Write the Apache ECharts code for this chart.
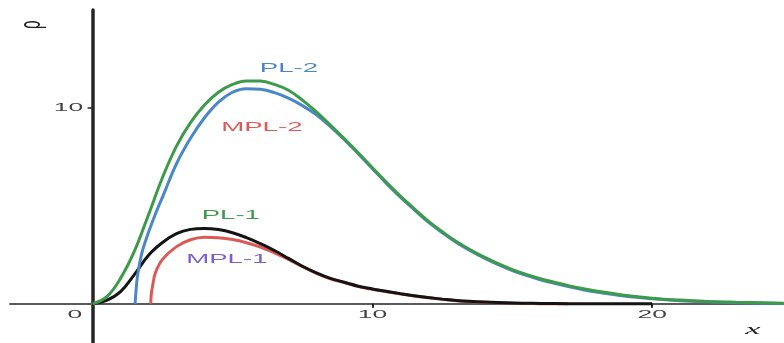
<!DOCTYPE html>
<html>
<head>
<meta charset="utf-8">
<script src="https://cdn.jsdelivr.net/npm/echarts@6/dist/echarts.min.js"></script>
<style>
html,body{margin:0;padding:0;background:#fff;}
#c{width:784px;height:343px;}
</style>
</head>
<body>
<div id="c"></div>
<script>
// ---- data ----
const pl2X  = [0,0.5,1,1.5,2,2.5,3,3.5,4,4.5,5,5.5,6,6.5,7,7.5,8,8.5,9,9.5,10,10.5,11,11.5,12,12.5,13,13.5,14,14.5,15,15.5,16,16.5,17,17.5,18,19,20,21,22,23,24,24.7];
const pl2Y  = [0,0.35,1.3,2.7,4.55,6.45,8.05,9.25,10.15,10.8,11.2,11.38,11.37,11.2,10.9,10.4,9.8,9.12,8.42,7.7,6.95,6.2,5.5,4.85,4.22,3.68,3.18,2.76,2.38,2.05,1.75,1.5,1.28,1.1,0.93,0.78,0.65,0.44,0.29,0.19,0.12,0.08,0.05,0.03];
const mpl2X = [1.52,1.55,1.6,1.7,1.8,2,2.25,2.5,3,3.5,4,4.5,5,5.5,6,6.5,7,7.5,8,8.5,9,9.5,10,10.5,11,11.5,12,12.5,13,13.5,14,14.5,15,15.5,16,16.5,17,17.5,18,19,20,21,22,23,24,24.7];
const mpl2Y = [0,0.6,1.35,2.2,2.8,3.65,4.6,5.45,7.15,8.45,9.5,10.3,10.8,10.98,10.95,10.78,10.5,10.12,9.65,9.05,8.38,7.65,6.9,6.15,5.45,4.8,4.17,3.63,3.13,2.71,2.33,2.0,1.7,1.45,1.23,1.05,0.88,0.73,0.6,0.4,0.26,0.16,0.1,0.06,0.03,0.02];
const pl1X  = [0,0.5,1,1.5,2,2.5,3,3.5,4,4.5,5,5.5,6,6.5,7,7.5,8,8.5,9,9.5,10,10.5,11,11.5,12,12.5,13,14,15,16,17,18,20];
const pl1Y  = [0,0.17,0.62,1.5,2.48,3.13,3.58,3.8,3.85,3.79,3.63,3.38,3.07,2.72,2.32,1.92,1.58,1.3,1.1,0.9,0.76,0.64,0.52,0.41,0.32,0.24,0.17,0.09,0.04,0.02,0.01,0,0];
const mpl1X = [2.08,2.1,2.15,2.25,2.5,3,3.5,4,4.5,5,5.5,6,6.5,7,7.5,8,8.5,9,9.5,10,10.5,11,11.5,12,12.5,13,14,15,16,17];
const mpl1Y = [0,0.5,0.95,1.6,2.27,2.92,3.27,3.4,3.37,3.28,3.12,2.9,2.6,2.27,1.9,1.56,1.28,1.08,0.88,0.74,0.62,0.5,0.4,0.31,0.23,0.16,0.08,0.03,0.01,0];
const xTickValues = [10, 20];
const yTickValues = [10];
const xTickLabels = ['0', '10', '20'];
const xTickLabelValues = [0, 10, 20];
const yTickLabels = ['10'];
const seriesNames = ['MPL-1', 'PL-1', 'MPL-2', 'PL-2'];
const curveLabels = ['PL-2', 'MPL-2', 'PL-1', 'MPL-1'];
const xName = 'x';
const yName = 'ρ';

function pairs(xs, ys) { return xs.map((x, i) => [x, ys[i]]); }

const chart = echarts.init(document.getElementById('c'));
const lineStyle = (c) => ({ color: c, width: 3 });
const mk = (name, xs, ys, color) => ({
  name, type: 'line', data: pairs(xs, ys), symbol: 'none', smooth: 0.4,
  lineStyle: lineStyle(color), itemStyle: { color }, silent: true,
  clip: true
});
chart.setOption({
  animation: false,
  grid: { left: 10, right: 0, top: 10, bottom: 0, containLabel: false },
  xAxis: {
    type: 'value', min: -2.95, max: 24.71,
    axisLine: { onZero: true, lineStyle: { color: '#5a5a5a', width: 2 } },
    axisTick: { show: true, customValues: xTickValues, length: 4, lineStyle: { color: '#222', width: 2 } },
    axisLabel: { show: false },
    splitLine: { show: false }
  },
  yAxis: {
    type: 'value', min: -2, max: 15,
    axisLine: { onZero: true, lineStyle: { color: '#262626', width: 3.5 } },
    axisTick: { show: true, customValues: yTickValues, length: 5, lineStyle: { color: '#222', width: 1.5 } },
    axisLabel: { show: false },
    splitLine: { show: false }
  },
  series: [
    mk(seriesNames[0], mpl1X, mpl1Y, '#dc5a55'),
    mk(seriesNames[1], pl1X, pl1Y, '#141414'),
    mk(seriesNames[2], mpl2X, mpl2Y, '#4a87c6'),
    mk(seriesNames[3], pl2X, pl2Y, '#3d9a4b')
  ]
});

const toPx = (p) => chart.convertToPixel({ gridIndex: 0 }, p);
const SX = 2.3;
const txt = (text, p, fill, font) => {
  const q = toPx(p);
  return {
    type: 'text', x: q[0], y: q[1], scaleX: SX, silent: true, z: 100,
    style: { text, fill, font, align: 'center', verticalAlign: 'middle' }
  };
};
const labFont = '12px "Liberation Sans", Arial, sans-serif';
const tickFont = '11.5px "Liberation Sans", Arial, sans-serif';
const yq = toPx([-2.16, 14.25]);
const graphics = [
  txt(curveLabels[0], [7.02, 12.01], '#4a87c6', labFont),
  txt(curveLabels[1], [6.05, 9.0], '#dc5a55', labFont),
  txt(curveLabels[2], [4.94, 4.48], '#3d9a4b', labFont),
  txt(curveLabels[3], [4.8, 2.25], '#7b5fd0', labFont),
  txt(xName, [23.6, -1.36], '#222', 'italic 15px "Liberation Serif", serif'),
  {
    type: 'group', x: yq[0], y: yq[1], rotation: Math.PI / 2, z: 100, silent: true,
    children: [{
      type: 'text', x: 0, y: 0, scaleY: 2.0, silent: true,
      style: { text: yName, fill: '#222', font: '15px "Liberation Sans", sans-serif', align: 'center', verticalAlign: 'middle' }
    }]
  }
];
xTickLabelValues.forEach((v, i) => {
  const xPos = v === 0 ? -0.63 : v;
  graphics.push(txt(xTickLabels[i], [xPos, -0.54], '#444', tickFont));
});
yTickValues.forEach((v, i) => {
  graphics.push(txt(yTickLabels[i], [-0.86, v], '#444', tickFont));
});
chart.setOption({ graphic: graphics });
</script>
</body>
</html>
